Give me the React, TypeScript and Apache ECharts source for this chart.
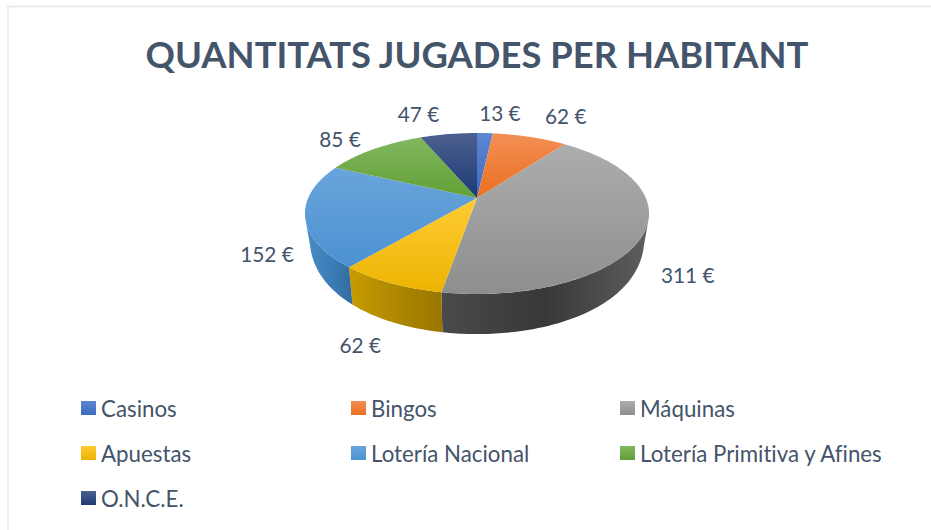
import React, { useEffect, useRef } from "react";
import * as echarts from "echarts";

const titleText = "QUANTITATS JUGADES PER HABITANT";
const categories = ["Casinos", "Bingos", "Máquinas", "Apuestas", "Lotería Nacional", "Lotería Primitiva y Afines", "O.N.C.E."];
const values = [13, 62, 311, 62, 152, 85, 47];
const unit = " €";

const topColors = [
  ["#5c86d3", "#3d6bbf"],
  ["#f28f55", "#eb6f20"],
  ["#adadad", "#8e8e8e"],
  ["#ffcb36", "#ecb400"],
  ["#6aa4db", "#4b92d2"],
  ["#82b760", "#60a035"],
  ["#4d6090", "#1b3a75"],
];
const wallStops: (string[] | null)[] = [
  null,
  null,
  ["#5e5e5e", "#383838", "#4a4a4a"],
  ["#c79c00", "#ae8800", "#9a7600"],
  ["#4a8cc6", "#3c7fb8", "#336c9e"],
  null,
  null,
];
const labelNudge = [
  [15, -21], [36, -21], [43, 43], [-30, 61], [-38, 38], [-34, -11], [-30, -21],
];

const textColor = "#44546a";
const fontFamily = "Lato";
const cx = 477, cy = 198, persp = 0.1925, A = 168.8, B = 77.5;
const sideScale = 0.972, sideCy = 218, sideB = 106.8, sidePersp = 0.08;
const legendCols = [81, 351, 620];
const legendRows = [397, 442, 487];

const total = values.reduce((a, b) => a + b, 0);

function topPoint(deg: number): number[] {
  const t = (deg * Math.PI) / 180;
  const u = Math.sin(t), v = -Math.cos(t), d = 1 - persp * v;
  return [cx + (A * u) / d, cy + (B * v) / d];
}
function sidePoint(deg: number): number[] {
  const t = (deg * Math.PI) / 180;
  const u = Math.sin(t), v = -Math.cos(t), d = 1 - persp * v;
  return [cx + (sideScale * A * u) / d, sideCy + (sideB * v) / (1 - sidePersp * v)];
}
function arc(fn: (d: number) => number[], a: number, b: number): number[][] {
  const n = Math.max(2, Math.ceil(Math.abs(b - a)));
  const pts: number[][] = [];
  for (let i = 0; i <= n; i++) pts.push(fn(a + ((b - a) * i) / n));
  return pts;
}

export default function App() {
  const ref = useRef<HTMLDivElement>(null);
  useEffect(() => {
    document.body.style.margin = "0";
    const chart = echarts.init(ref.current!, undefined, { renderer: "svg" });
    let cum = 0;
    const series = categories.map((name, i) => {
      const start = (cum / total) * 360;
      cum += values[i];
      const end = (cum / total) * 360;
      const vGrad = (c: string[]) => ({
        type: "linear", x: 0, y: 0, x2: 0, y2: 1,
        colorStops: [{ offset: 0, color: c[0] }, { offset: 1, color: c[1] }],
      });
      return {
        type: "custom",
        name,
        coordinateSystem: "none",
        silent: true,
        itemStyle: { color: vGrad(topColors[i]) },
        data: [[start, end, values[i]]],
        renderItem: (params: any, api: any) => {
          const a = api.value(0), b = api.value(1), val = api.value(2);
          const children: any[] = [];
          const stops = wallStops[i];
          if (stops) {
            const wa = Math.max(a, 105), wb = Math.min(b, 255);
            children.push({
              type: "polygon",
              z2: 1,
              shape: { points: [...arc(topPoint, wa, wb), ...arc(sidePoint, wb, wa)] },
              style: {
                fill: {
                  type: "linear", x: 0, y: 0, x2: 1, y2: 0,
                  colorStops: [
                    { offset: 0, color: i === 2 ? stops[2] : stops[0] },
                    { offset: 0.5, color: stops[1] },
                    { offset: 1, color: i === 2 ? stops[0] : stops[2] },
                  ],
                },
              },
            });
          }
          children.push({
            type: "polygon",
            z2: 5,
            shape: { points: [[cx, cy], ...arc(topPoint, a, b)] },
            style: { fill: vGrad(topColors[i]) },
          });
          const mid = topPoint((a + b) / 2);
          children.push({
            type: "text",
            z2: 10,
            style: {
              x: mid[0] + labelNudge[i][0],
              y: mid[1] + labelNudge[i][1],
              text: `${val}${unit}`,
              fill: textColor,
              fontSize: 20.8,
              fontFamily,
              align: "center",
              verticalAlign: "middle",
            },
          });
          return { type: "group", children };
        },
      };
    });
    const legend = categories.map((name, i) => ({
      show: true,
      data: [name],
      left: legendCols[i % 3],
      top: legendRows[Math.floor(i / 3)],
      padding: 0,
      itemWidth: 15,
      itemHeight: 14,
      selectedMode: false,
      icon: "rect",
      textStyle: { color: textColor, fontSize: 22.3, fontFamily },
    }));
    chart.setOption({
      animation: false,
      backgroundColor: "#ffffff",
      title: {
        text: titleText,
        left: 477,
        top: 36,
        padding: 0,
        textAlign: "center",
        textStyle: { color: textColor, fontSize: 36.4, fontWeight: "bold", fontFamily },
      },
      legend,
      graphic: [
        {
          type: "rect",
          silent: true,
          shape: { x: 8, y: 6.5, width: 940, height: 540 },
          style: { fill: "none", stroke: "#e3e7ec", lineWidth: 1.5 },
        },
      ],
      series,
    });
    return () => chart.dispose();
  }, []);
  return (
    <div
      ref={ref}
      style={{ position: "fixed", left: 0, top: 0, width: 931, height: 530, fontVariantLigatures: "none" }}
    />
  );
}
